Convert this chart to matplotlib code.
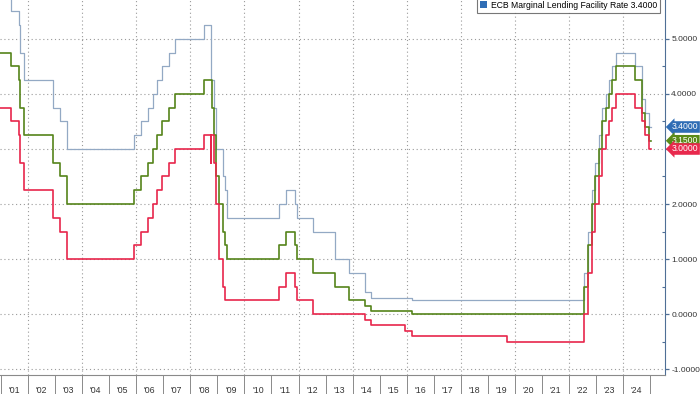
import pandas as pd
import matplotlib.pyplot as plt
import matplotlib.transforms as mtrans
from matplotlib.patches import Patch

plt.rcParams["font.family"] = ["Liberation Sans", "DejaVu Sans"]

# ECB policy rate changes (effective dates)
change_dates = [
    "2000-10-11", "2001-05-11", "2001-08-31", "2001-09-18", "2001-11-09",
    "2002-12-06", "2003-03-07", "2003-06-06", "2005-12-06", "2006-03-08",
    "2006-06-15", "2006-08-09", "2006-10-11", "2006-12-13", "2007-03-14",
    "2007-06-13", "2008-07-09", "2008-10-08", "2008-10-09", "2008-10-15",
    "2008-11-12", "2008-12-10", "2009-01-21", "2009-03-11", "2009-04-08",
    "2009-05-13", "2011-04-13", "2011-07-13", "2011-11-09", "2011-12-14",
    "2012-07-11", "2013-05-08", "2013-11-13", "2014-06-11", "2014-09-10",
    "2015-12-09", "2016-03-16", "2019-09-18", "2022-07-27", "2022-09-14",
    "2022-11-02", "2022-12-21", "2023-02-08", "2023-03-22", "2023-05-10",
    "2023-06-21", "2023-08-02", "2023-09-20", "2024-06-12", "2024-09-18",
    "2024-10-23", "2024-12-18", "2025-01-08",
]
marginal_lending = [
    5.75, 5.50, 5.25, 4.75, 4.25, 3.75, 3.50, 3.00, 3.25, 3.50,
    3.75, 4.00, 4.25, 4.50, 4.75, 5.00, 5.25, 4.75, 4.25, 4.25,
    3.75, 3.00, 3.00, 2.50, 2.25, 1.75, 2.00, 2.25, 2.00, 1.75,
    1.50, 1.00, 0.75, 0.40, 0.30, 0.30, 0.25, 0.25, 0.75, 1.50,
    2.25, 2.75, 3.25, 3.75, 4.00, 4.25, 4.50, 4.75, 4.50, 3.90,
    3.65, 3.40, 3.40,
]
main_refi = [
    4.75, 4.50, 4.25, 3.75, 3.25, 2.75, 2.50, 2.00, 2.25, 2.50,
    2.75, 3.00, 3.25, 3.50, 3.75, 4.00, 4.25, 4.25, 4.25, 3.75,
    3.25, 2.50, 2.00, 1.50, 1.25, 1.00, 1.25, 1.50, 1.25, 1.00,
    0.75, 0.50, 0.25, 0.15, 0.05, 0.05, 0.00, 0.00, 0.50, 1.25,
    2.00, 2.50, 3.00, 3.50, 3.75, 4.00, 4.25, 4.50, 4.25, 3.65,
    3.40, 3.15, 3.15,
]
deposit = [
    3.75, 3.50, 3.25, 2.75, 2.25, 1.75, 1.50, 1.00, 1.25, 1.50,
    1.75, 2.00, 2.25, 2.50, 2.75, 3.00, 3.25, 2.75, 3.25, 3.25,
    2.75, 2.00, 1.00, 0.50, 0.25, 0.25, 0.50, 0.75, 0.50, 0.25,
    0.00, 0.00, 0.00, -0.10, -0.20, -0.30, -0.40, -0.50, 0.00, 0.75,
    1.50, 2.00, 2.50, 3.00, 3.25, 3.50, 3.75, 4.00, 3.75, 3.50,
    3.25, 3.00, 3.00,
]
years = list(range(2001, 2026))
y_ticks = [-1, 0, 1, 2, 3, 4, 5]

dates = pd.to_datetime(change_dates)

blue_line = "#93a9c4"
green_line = "#55841a"
red_line = "#e8264c"
blue_tag = "#2f6db5"
green_tag = "#5a8a18"
red_tag = "#e8294d"

fig = plt.figure(figsize=(7, 3.94), dpi=100)
ax = fig.add_axes([0, 19 / 394, 665 / 700, 375 / 394])

ax.step(dates, marginal_lending, where="post", color=blue_line, lw=0.9, zorder=3)
ax.step(dates, main_refi, where="post", color=green_line, lw=1.2, zorder=4)
ax.step(dates, deposit, where="post", color=red_line, lw=1.2, zorder=5)

ax.set_xlim(pd.Timestamp("2000-12-19"), pd.Timestamp("2025-07-19"))
ax.set_ylim(-1.109, 5.709)

# grid: dotted, every integer and every second year
for y in y_ticks:
    ax.axhline(y, color="#9a9a9a", lw=0.8, ls=(0, (1, 2.5)), zorder=1)
for yr in years:
    if yr % 2 == 0:
        ax.axvline(pd.Timestamp(f"{yr}-01-01"), color="#9a9a9a", lw=0.8,
                   ls=(0, (1, 2.5)), zorder=1)

# x axis: year separators + centred labels
ax.set_xticks([pd.Timestamp(f"{yr}-01-01") for yr in years])
ax.set_xticklabels([])
ax.set_xticks([pd.Timestamp(f"{yr}-07-02") for yr in years[:-1]], minor=True)
ax.set_xticklabels([f"'{yr % 100:02d}" for yr in years[:-1]], minor=True)
ax.tick_params(axis="x", which="major", length=14, width=0.7, color="#8a8a8a")
ax.tick_params(axis="x", which="minor", length=0, pad=8, labelsize=6.3,
               labelcolor="#333333")

# y axis on the right
ax.yaxis.tick_right()
ax.set_yticks(y_ticks)
ax.set_yticklabels([f"{v:.4f}" for v in y_ticks])
ax.set_yticks([v + 0.5 for v in y_ticks[:-1]], minor=True)
ax.tick_params(axis="y", which="major", length=3, width=0.9, color="#4f6f96",
               labelsize=6.0, labelcolor="#333333", pad=1.5)
ax.tick_params(axis="y", which="minor", direction="in", length=2.5, width=0.8,
               color="#4f6f96")

for side in ["left", "top"]:
    ax.spines[side].set_visible(False)
ax.spines["right"].set_color("#4f6f96")
ax.spines["bottom"].set_color("#8a8a8a")
ax.spines["bottom"].set_linewidth(0.8)

# last value tags
tag_y = mtrans.blended_transform_factory(ax.transAxes, ax.transData)
for val, col in [(marginal_lending[-1], blue_tag), (main_refi[-1], green_tag),
                 (deposit[-1], red_tag)]:
    ax.annotate(f"{val:.4f}", xy=(1.0, val), xycoords=tag_y,
                xytext=(5, 0), textcoords="offset points",
                ha="left", va="center", fontsize=6.2, color="white",
                annotation_clip=False,
                bbox=dict(boxstyle="larrow,pad=0.15", fc=col, ec="none"))

handle = Patch(facecolor=blue_tag, edgecolor="none")
leg = ax.legend([handle], ["ECB Marginal Lending Facility Rate 3.4000"],
                loc="upper right", bbox_to_anchor=(660 / 665, 1.006),
                borderaxespad=0, fontsize=6.2, frameon=True, fancybox=False,
                handlelength=0.9, handleheight=0.9, handletextpad=0.4,
                borderpad=0.35)
leg.get_frame().set_edgecolor("#555555")
leg.get_frame().set_linewidth(0.8)

fig.savefig("out.png", dpi=100)
